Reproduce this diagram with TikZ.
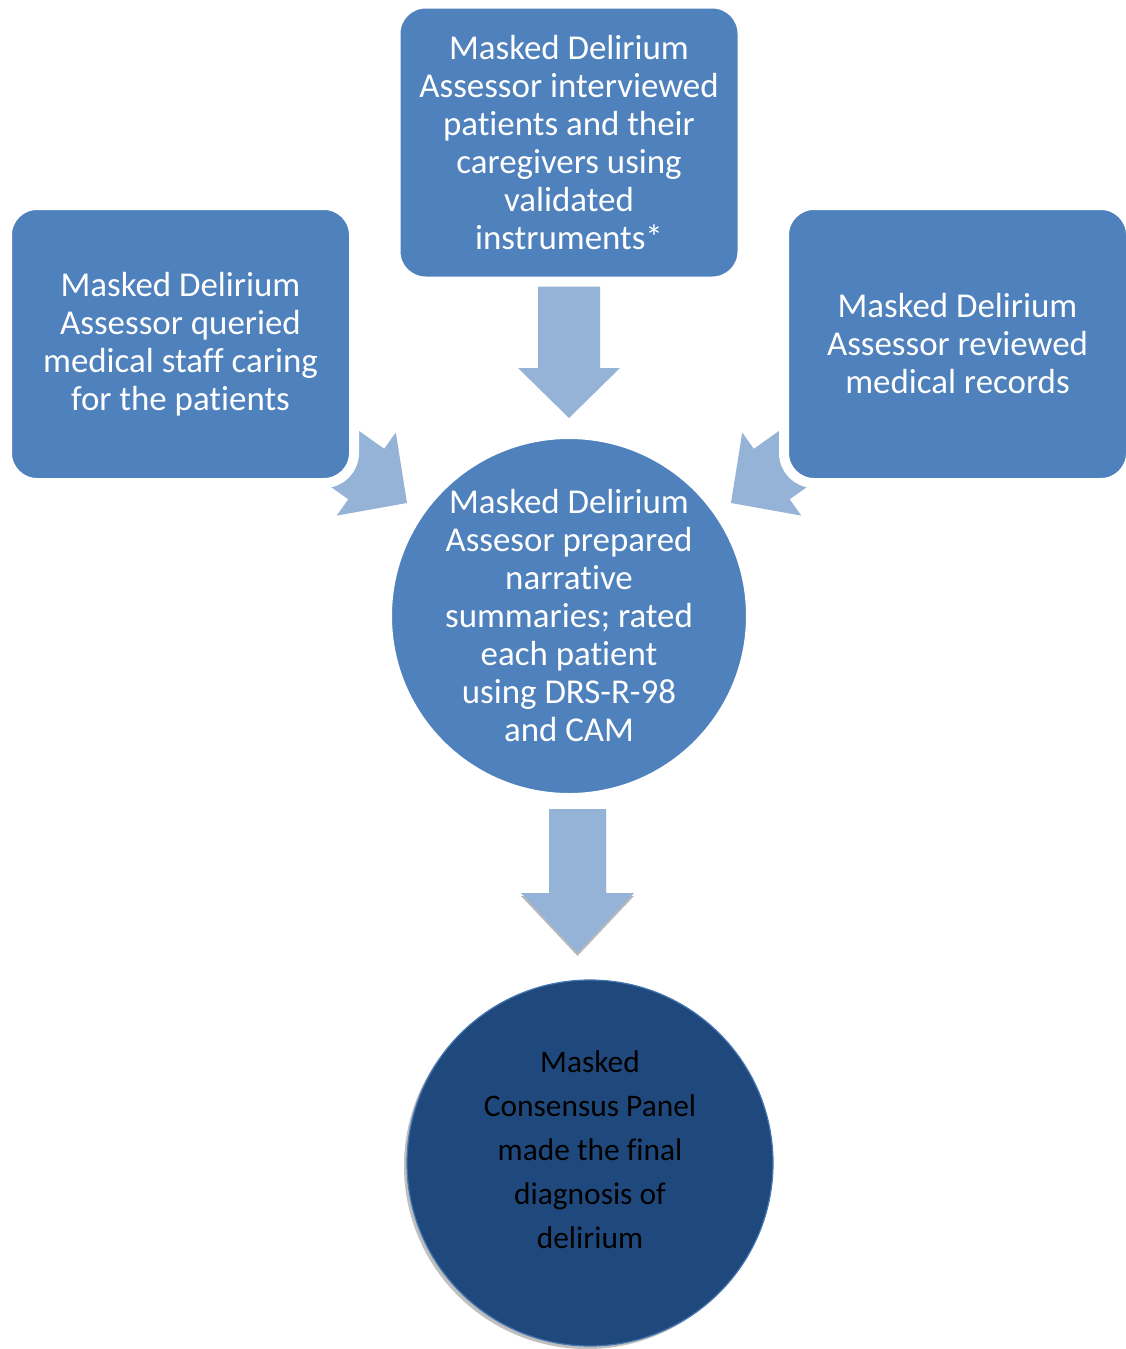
\documentclass[tikz,border=0pt]{standalone}
\usepackage{fontspec}
\setmainfont[Ligatures=NoCommon]{Carlito}
\usetikzlibrary{shapes.geometric}
\definecolor{boxblue}{HTML}{4F81BD}
\definecolor{arrowblue}{HTML}{95B3D7}
\definecolor{darkblue}{HTML}{1F497D}
\tikzset{
  txt/.style={font=\fontsize{34.9}{38}\selectfont, align=center, text=white},
  rbox/.style={rectangle, rounded corners=30pt, fill=boxblue, draw=white, line width=10pt,
    minimum width=347pt, minimum height=278pt, inner sep=0pt, txt},
  bcirc/.style={circle, fill=boxblue, draw=white, line width=10pt, minimum size=364pt, inner sep=0pt, txt},
  blockarrow/.style={fill=arrowblue},
  arrowshadow/.style={fill=gray!55},
}
\begin{document}
\begin{tikzpicture}[x=1pt,y=-1pt]
\useasboundingbox (0,0) rectangle (1126,1349);
% side arrows (drawn under boxes)
\fill[blockarrow] (314.9,399.6) -- (384.2,448.8) -- (395.8,432.5) -- (407,503) -- (336.7,515.6) -- (348.3,499.3) -- (279.0,450.1) -- cycle;
\fill[blockarrow] (823.1,399.6) -- (753.8,448.8) -- (742.2,432.5) -- (731,503) -- (801.3,515.6) -- (789.7,499.3) -- (859.0,450.1) -- cycle;
% top arrow
\fill[blockarrow] (538,283) -- (600,283) -- (600,368) -- (620,368) -- (569,418) -- (518,368) -- (538,368) -- cycle;
% boxes
\node[rbox] (top) at (569,142.5) {Masked Delirium\\Assessor interviewed\\patients and their\\caregivers using\\validated\\instruments*};
\node[rbox] (left) at (180.5,344) {Masked Delirium\\Assessor queried\\medical staff caring\\for the patients};
\node[rbox] (right) at (957.5,344) {Masked Delirium\\Assessor reviewed\\medical records};
\node[bcirc] (mid) at (569,616) {Masked Delirium\\Assesor prepared\\narrative\\summaries; rated\\each patient\\using DRS-R-98\\and CAM};
% bottom arrow with shadow
\fill[arrowshadow] (549,812) -- (606,812) -- (606,896) -- (634,896) -- (577.5,956) -- (521,896) -- (549,896) -- cycle;
\fill[blockarrow] (549,809) -- (606,809) -- (606,893) -- (634,893) -- (577.5,953) -- (521,893) -- (549,893) -- cycle;
% bottom circle
\fill[gray!50] (587,1166) circle (183);
\node[circle, fill=darkblue, draw=boxblue!80!darkblue, line width=1.2pt, minimum size=366pt, inner sep=0pt] (panel) at (590,1163) {};
\node[font=\fontsize{31.4}{44}\selectfont, align=center, text=black] (paneltext) at (590,1150) {Masked\\Consensus Panel\\made the final\\diagnosis of\\delirium};
\end{tikzpicture}
\end{document}
